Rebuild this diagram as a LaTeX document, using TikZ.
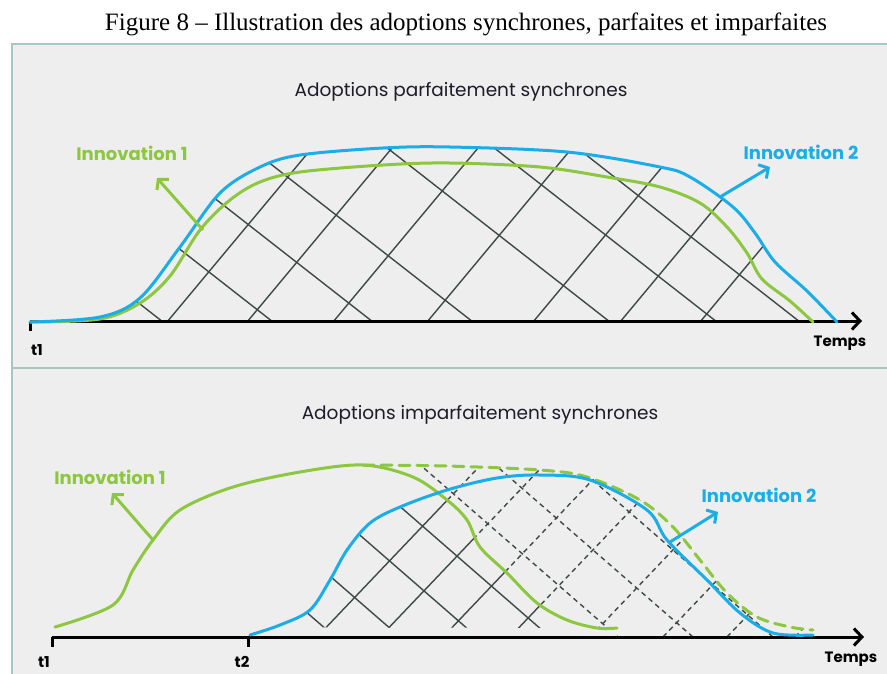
\documentclass[tikz,border=0pt]{standalone}
\usepackage{fontspec}
\setmainfont{Liberation Serif}
\newfontfamily\geo{Poppins}
\usetikzlibrary{arrows.meta,positioning}
\definecolor{InnoGreen}{HTML}{8DC63F}
\definecolor{InnoBlue}{HTML}{1AADE8}
\definecolor{PanelFill}{HTML}{EEEEEE}
\definecolor{PanelLine}{HTML}{A9C6C3}
\definecolor{HatchGray}{HTML}{3E4A47}
\definecolor{HeadInk}{HTML}{1C1C2A}

% curves of the two panels
\def\blueTop{plot[smooth,tension=.55] coordinates {(30,322) (100,317) (140,298) (180,247) (220,193) (260,167) (300,155) (383,148) (450,147) (567,152) (660,167) (690,177) (733,207) (755,233) (775,262) (807,291) (837,322)}}
\def\greenTop{plot[smooth,tension=.55] coordinates {(30,322) (100,319) (140,303) (170,276) (200,230) (230,200) (260,182) (300,172) (383,165) (450,163) (540,167) (607,177) (660,187) (700,203) (727,227) (747,253) (762,279) (790,301) (813,322)}}
\def\greenBot{plot[smooth,tension=.55] coordinates {(55,627) (113,605) (133,570) (153,540) (180,510) (233,487) (300,472) (363,465) (413,477) (447,500) (467,520) (480,547) (507,573) (537,603) (567,620) (597,628) (617,628)}}
\def\greenFull{plot[smooth,tension=.55] coordinates {(55,627) (113,605) (133,570) (153,540) (180,510) (233,487) (300,472) (363,465) (447,466) (540,470) (587,477) (640,500) (673,527) (700,560) (727,593) (757,617) (790,627) (813,630)}}
\def\greenDash{plot[smooth,tension=.55] coordinates {(363,465) (447,466) (540,470) (587,477) (640,500) (673,527) (700,560) (727,593) (757,617) (790,627) (813,630)}}
\def\blueBot{plot[smooth,tension=.55] coordinates {(250,635) (280,625) (310,610) (330,580) (347,550) (370,523) (400,507) (447,490) (497,478) (540,475) (590,480) (647,510) (667,540) (707,580) (740,613) (773,633) (813,635)}}

\begin{document}
\begin{tikzpicture}[x=1pt,y=-1pt,
    curveA/.style={InnoGreen,line width=3pt,line cap=round},
    curveB/.style={InnoBlue,line width=3pt,line cap=round},
    hatch/.style={HatchGray,line width=1.4pt},
    axis/.style={line width=3pt,-{Straight Barb[length=8pt,width=17pt]}},
    ptr/.style={line width=3pt,-{Straight Barb[length=7pt,width=16pt]}},
    lbl/.style={font=\geo\bfseries\fontsize{18}{20}\selectfont},
    sub/.style={HeadInk,font=\geo\fontsize{18.5}{20}\selectfont},
    tick/.style={font=\geo\bfseries\fontsize{15}{17}\selectfont}
  ]
  \fill[white] (0,0) rectangle (887,673);
  \useasboundingbox (0,0) rectangle (887,673);
  \draw[PanelLine,fill=PanelFill,line width=2pt] (12,44) rectangle (900,690);
  \draw[PanelLine,line width=2pt] (12,368) -- (900,368);
  \node (title) at (466,24) {\fontsize{25}{28}\selectfont Figure 8 – Illustration des adoptions synchrones, parfaites et imparfaites};

  % top panel
  \node[sub] (headA) at (461,92) {Adoptions parfaitement synchrones};
  \begin{scope}
    \clip \blueTop -- cycle;
    \foreach \x in {163,273,373,473,610,717,800} \draw[hatch] (\x,322) -- ++(-320,-250);
    \foreach \x in {167,247,333,427,533,620,700} \draw[hatch] (\x,322) -- ++(220,-264);
  \end{scope}
  \coordinate (axA0) at (30,321);
  \coordinate (axA1) at (862,321);
  \draw[axis] (axA0) -- (axA1);
  \draw[line width=3pt] (axA0) -- ++(0,10);
  \draw[curveA] \greenTop;
  \draw[curveB] \blueTop;
  \node[tick] (tA) at (37,350) {t1};
  \node[tick] (timeA) at (840,343) {Temps};
  \node[lbl,InnoGreen] (innoA) at (132,153) {Innovation 1};
  \node[lbl,InnoBlue] (innoB) at (801,152) {Innovation 2};
  \coordinate (footA) at (203,230);
  \coordinate (tipA) at (157,178);
  \coordinate (footB) at (720,197);
  \coordinate (tipB) at (770,167);
  \draw[ptr,InnoGreen] (footA) -- (tipA);
  \draw[ptr,InnoBlue] (footB) -- (tipB);

  % bottom panel
  \node[sub] (headB) at (480,415) {Adoptions imparfaitement synchrones};
  \begin{scope}
    \clip \blueBot -- cycle;
    \clip \greenBot -- cycle;
    \foreach \x in {335,400,477,550,618,693,773} \draw[hatch] (\x,637) -- ++(-300,-261);
    \foreach \x in {317,380,443,510,590,663,727,795} \draw[hatch] (\x,637) -- ++(200,-210);
  \end{scope}
  \begin{scope}[even odd rule]
    \clip \greenFull -- (813,637) -- (55,637) -- cycle \greenBot -- (617,637) -- (55,637) -- cycle;
    \foreach \x in {335,400,477,550,618,693,773} \draw[hatch,dash pattern=on 5pt off 4pt] (\x,637) -- ++(-300,-261);
    \foreach \x in {317,380,443,510,590,663,727,795} \draw[hatch,dash pattern=on 5pt off 4pt] (\x,637) -- ++(200,-210);
  \end{scope}
  \coordinate (axB0) at (52,637);
  \coordinate (axB1) at (864,637);
  \coordinate (axB2) at (248,637);
  \draw[axis] (axB0) -- (axB1);
  \draw[line width=3pt] (axB0) -- ++(0,10);
  \draw[line width=3pt] (axB2) -- ++(0,10);
  \draw[curveA] \greenBot;
  \draw[curveA,dash pattern=on 11pt off 7pt] \greenDash;
  \draw[curveB] \blueBot;
  \node[tick] (tB) at (44,662) {t1};
  \node[tick] (tC) at (242,662) {t2};
  \node[tick] (timeB) at (851,659) {Temps};
  \node[lbl,InnoGreen] (innoC) at (110,477) {Innovation 1};
  \node[lbl,InnoBlue] (innoD) at (759,495) {Innovation 2};
  \coordinate (footC) at (153,540);
  \coordinate (tipC) at (112,493);
  \coordinate (footD) at (670,542);
  \coordinate (tipD) at (718,512);
  \draw[ptr,InnoGreen] (footC) -- (tipC);
  \draw[ptr,InnoBlue] (footD) -- (tipD);
\end{tikzpicture}
\end{document}
